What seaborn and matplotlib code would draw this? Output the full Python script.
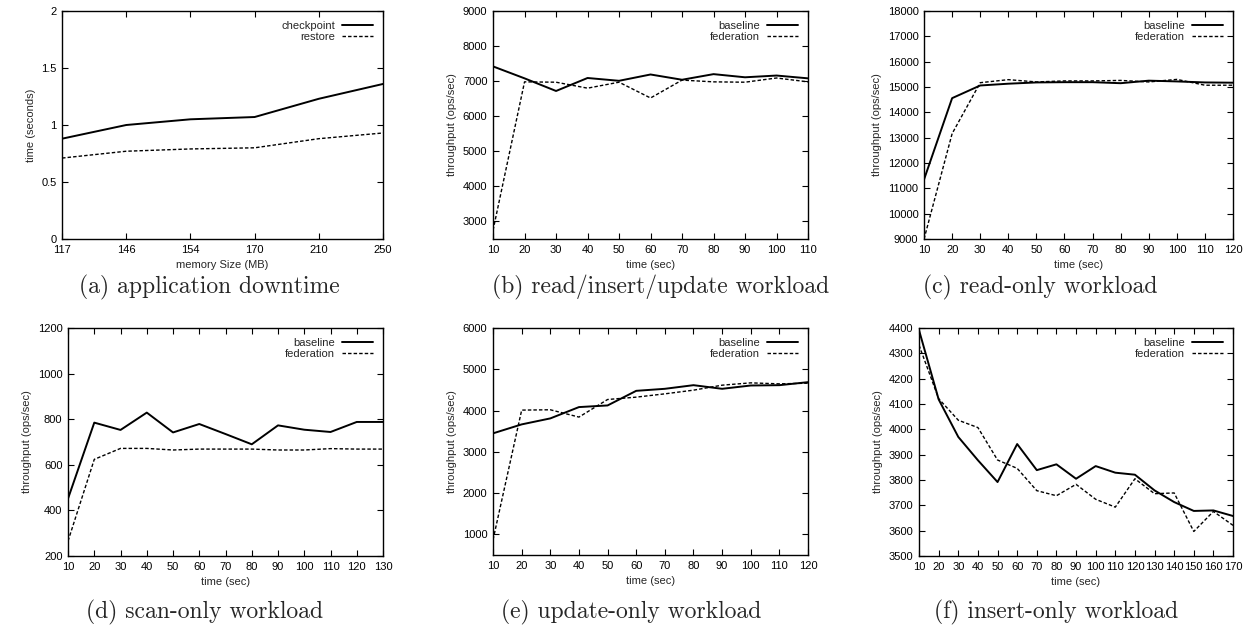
import numpy as np
import pandas as pd
import seaborn as sns
import matplotlib.pyplot as plt

# (a) downtime vs memory size
mem_sizes = ["117", "146", "154", "170", "210", "250"]
checkpoint = [0.88, 1.00, 1.05, 1.07, 1.23, 1.36]
restore = [0.71, 0.77, 0.79, 0.80, 0.88, 0.93]

# (b) read/insert/update
t_b = [10, 20, 30, 40, 50, 60, 70, 80, 90, 100, 110]
base_b = [7420, 7080, 6720, 7090, 7010, 7190, 7040, 7200, 7110, 7160, 7080]
fed_b = [2750, 6980, 6970, 6800, 6970, 6520, 7030, 6980, 6970, 7090, 6980]

# (c) read-only
t_c = [10, 20, 30, 40, 50, 60, 70, 80, 90, 100, 110, 120]
base_c = [11350, 14560, 15060, 15130, 15180, 15190, 15190, 15150, 15250, 15220, 15180, 15170]
fed_c = [9000, 13160, 15170, 15290, 15200, 15240, 15240, 15260, 15200, 15300, 15070, 15070]

# (d) scan-only
t_d = [10, 20, 30, 40, 50, 60, 70, 80, 90, 100, 110, 120, 130]
base_d = [452, 785, 753, 829, 742, 779, 735, 690, 773, 754, 744, 788, 788]
fed_d = [266, 624, 672, 672, 665, 669, 669, 669, 665, 665, 671, 669, 669]

# (e) update-only
t_e = [10, 20, 30, 40, 50, 60, 70, 80, 90, 100, 110, 120]
base_e = [3448, 3665, 3810, 4084, 4124, 4478, 4527, 4615, 4527, 4607, 4615, 4688]
fed_e = [871, 4011, 4019, 3842, 4268, 4325, 4405, 4494, 4615, 4671, 4647, 4663]

# (f) insert-only
t_f = [10, 20, 30, 40, 50, 60, 70, 80, 90, 100, 110, 120, 130, 140, 150, 160, 170]
base_f = [4391, 4118, 3970, 3878, 3792, 3942, 3839, 3862, 3805, 3855, 3829, 3821,
          3759, 3713, 3678, 3680, 3658]
fed_f = [4332, 4121, 4036, 4007, 3879, 3846, 3758, 3738, 3783, 3724, 3693, 3805,
         3746, 3749, 3597, 3676, 3621]

captions = ["(a) application downtime", "(b) read/insert/update workload",
            "(c) read-only workload", "(d) scan-only workload",
            "(e) update-only workload", "(f) insert-only workload"]

sns.set_theme(style="ticks")
plt.rcParams["font.family"] = ["Liberation Sans", "DejaVu Sans"]
plt.rcParams["font.size"] = 8

fig = plt.figure(figsize=(12.46, 6.28), dpi=100)

# axes boxes in figure fractions
boxes = [
    [0.0498, 0.6194, 0.2576, 0.3631],
    [0.3957, 0.6194, 0.2528, 0.3631],
    [0.7416, 0.6194, 0.2480, 0.3631],
    [0.0546, 0.1146, 0.2528, 0.3631],
    [0.3957, 0.1162, 0.2528, 0.3615],
    [0.7376, 0.1146, 0.2520, 0.3631],
]
cap_x = [209, 661, 1040, 205, 631, 1056]
cap_y = [0.543, 0.543, 0.543, 0.024, 0.024, 0.024]

dash = (0, (2.5, 1.5))

def style_ax(ax):
    for s in ax.spines.values():
        s.set_linewidth(1.0)
        s.set_color("black")
    ax.tick_params(direction="in", length=4, width=0.8, top=True, right=True,
                   labelsize=8, pad=4, colors="black")


def draw(ax, x, y1, y2, names):
    sns.lineplot(x=x, y=y1, ax=ax, color="black", linewidth=1.4, label=names[0])
    sns.lineplot(x=x, y=y2, ax=ax, color="black", linewidth=1.0, linestyle=dash,
                 label=names[1])
    ax.legend(loc="upper right", frameon=False, markerfirst=False, fontsize=8,
              handlelength=2.8, handletextpad=0.6, labelspacing=0.1,
              borderaxespad=0.5)
    style_ax(ax)


axes = [fig.add_axes(b) for b in boxes]

# (a)
ax = axes[0]
draw(ax, mem_sizes, checkpoint, restore, ["checkpoint", "restore"])
ax.set_xlim(0, len(mem_sizes) - 1)
ax.set_ylim(0, 2)
ax.set_yticks([0, 0.5, 1, 1.5, 2])
ax.set_yticklabels(["0", "0.5", "1", "1.5", "2"])
ax.set_xlabel("memory Size (MB)", fontsize=8)
ax.set_ylabel("time (seconds)", fontsize=8)

series = [
    (axes[1], t_b, base_b, fed_b, (2500, 9000), np.arange(3000, 9001, 1000)),
    (axes[2], t_c, base_c, fed_c, (9000, 18000), np.arange(9000, 18001, 1000)),
    (axes[3], t_d, base_d, fed_d, (200, 1200), np.arange(200, 1201, 200)),
    (axes[4], t_e, base_e, fed_e, (500, 6000), np.arange(1000, 6001, 1000)),
    (axes[5], t_f, base_f, fed_f, (3500, 4400), np.arange(3500, 4401, 100)),
]
for ax, t, b, f, ylim, yt in series:
    draw(ax, t, b, f, ["baseline", "federation"])
    ax.set_xlim(t[0], t[-1])
    ax.set_xticks(t)
    ax.set_ylim(*ylim)
    ax.set_yticks(yt)
    ax.set_xlabel("time (sec)", fontsize=8)
    ax.set_ylabel("throughput (ops/sec)", fontsize=8)

for cx, cy, txt in zip(cap_x, cap_y, captions):
    fig.text(cx / 1246, cy, txt, ha="center", va="center", fontsize=17,
             family=["cmr10", "DejaVu Serif"])

fig.savefig("out.png", dpi=100)
